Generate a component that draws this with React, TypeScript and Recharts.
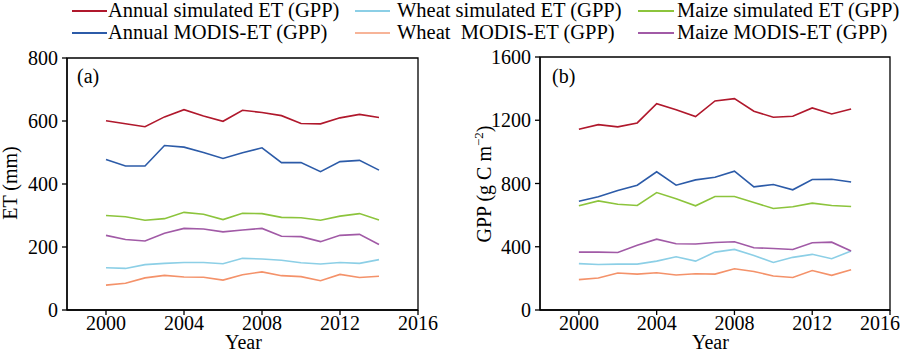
import React from 'react';
import { LineChart, Line, XAxis, YAxis, ReferenceArea } from 'recharts';

const years = [2000, 2001, 2002, 2003, 2004, 2005, 2006, 2007, 2008, 2009, 2010, 2011, 2012, 2013, 2014];
const xTicks = [2000, 2004, 2008, 2012, 2016];

// panel (a) ET, mm
const etAnnualSim = [601, 591, 582, 613, 636, 616, 599, 634, 627, 617, 592, 591, 610, 621, 611];
const etAnnualModis = [478, 457, 457, 522, 517, 500, 481, 499, 515, 468, 468, 439, 471, 475, 444];
const etMaizeSim = [300, 296, 285, 290, 310, 304, 287, 307, 306, 294, 293, 285, 298, 306, 286];
const etMaizeModis = [237, 224, 219, 244, 259, 257, 248, 254, 259, 234, 233, 217, 237, 240, 208];
const etWheatSim = [134, 132, 144, 148, 151, 151, 147, 164, 162, 158, 150, 146, 151, 148, 160];
const etWheatModis = [79, 85, 102, 110, 105, 104, 95, 112, 121, 109, 106, 93, 113, 103, 107];

// panel (b) GPP, g C m-2
const gppAnnualSim = [1143, 1172, 1158, 1183, 1305, 1267, 1223, 1322, 1337, 1257, 1219, 1225, 1278, 1240, 1271];
const gppAnnualModis = [688, 716, 756, 789, 874, 789, 823, 840, 878, 779, 794, 760, 825, 827, 810];
const gppMaizeSim = [659, 690, 669, 661, 743, 703, 659, 718, 718, 680, 642, 653, 676, 661, 655];
const gppMaizeModis = [366, 366, 364, 410, 448, 419, 417, 427, 432, 394, 389, 383, 425, 429, 373];
const gppWheatSim = [293, 288, 290, 290, 309, 337, 309, 366, 383, 345, 301, 333, 352, 324, 373];
const gppWheatModis = [192, 202, 234, 227, 236, 221, 229, 227, 261, 244, 215, 206, 250, 219, 255];

const seriesKeys = ['annualSim', 'wheatSim', 'maizeSim', 'annualModis', 'wheatModis', 'maizeModis'];
const seriesNames = [
  'Annual simulated ET (GPP)',
  'Wheat simulated ET (GPP)',
  'Maize simulated ET (GPP)',
  'Annual MODIS-ET (GPP)',
  'Wheat  MODIS-ET (GPP)',
  'Maize MODIS-ET (GPP)',
];
const colors: Record<string, string> = {
  annualSim: '#b0182c',
  wheatSim: '#8ccfe6',
  maizeSim: '#8cc43c',
  annualModis: '#2c5ba8',
  wheatModis: '#f4926a',
  maizeModis: '#a15aa6',
};
const legendColors: Record<string, string> = {
  ...colors,
  wheatModis: '#f7b498',
};

const etData = years.map((year, i) => ({
  year,
  annualSim: etAnnualSim[i],
  annualModis: etAnnualModis[i],
  maizeSim: etMaizeSim[i],
  maizeModis: etMaizeModis[i],
  wheatSim: etWheatSim[i],
  wheatModis: etWheatModis[i],
}));

const gppData = years.map((year, i) => ({
  year,
  annualSim: gppAnnualSim[i],
  annualModis: gppAnnualModis[i],
  maizeSim: gppMaizeSim[i],
  maizeModis: gppMaizeModis[i],
  wheatSim: gppWheatSim[i],
  wheatModis: gppWheatModis[i],
}));

const font = 'Liberation Serif, Times New Roman, serif';
const tickStyle = { fontFamily: font, fontSize: 20, fill: '#000' };

// legend column positions: [lineStart, lineEnd, textStart]
const legendCols = [
  [72, 107, 108],
  [355, 390, 397],
  [638, 674, 677],
];
const legendRows = [11, 33];

interface PanelProps {
  data: Array<Record<string, number>>;
  yMax: number;
  yTicks: number[];
  yWidth: number;
  margin: { top: number; right: number; bottom: number; left: number };
}

const Panel: React.FC<PanelProps> = ({ data, yMax, yTicks, yWidth, margin }) => (
  <LineChart width={450} height={362} data={data} margin={margin} style={{ fontFamily: font }}>
    <XAxis
      dataKey="year"
      type="number"
      domain={[1998, 2016]}
      ticks={xTicks}
      allowDataOverflow
      tick={tickStyle}
      tickSize={5}
      tickMargin={1}
      height={30}
      stroke="#000"
      strokeWidth={1.3}
    />
    <YAxis
      domain={[0, yMax]}
      ticks={yTicks}
      tick={tickStyle}
      tickSize={5}
      tickMargin={4}
      width={yWidth}
      stroke="#000"
      strokeWidth={1.3}
    />
    <ReferenceArea x1={1998} x2={2016} y1={0} y2={yMax} fill="none" stroke="#000" strokeWidth={1.3} />
    {seriesKeys.map((k) => (
      <Line
        key={k}
        dataKey={k}
        stroke={colors[k]}
        strokeWidth={1.6}
        dot={false}
        type="linear"
        isAnimationActive={false}
      />
    ))}
  </LineChart>
);

const textBase: React.CSSProperties = {
  position: 'absolute',
  fontFamily: font,
  fontSize: 20,
  color: '#000',
  whiteSpace: 'pre',
  lineHeight: '22px',
};

export default function App() {
  return (
    <div style={{ position: 'absolute', left: 0, top: 0, width: 900, height: 362, background: '#fff', fontFamily: font }}>
      {seriesKeys.map((k, i) => {
        const row = Math.floor(i / 3);
        const col = i % 3;
        const [l0, l1, t0] = legendCols[col];
        const cy = legendRows[row];
        return (
          <React.Fragment key={k}>
            <div
              style={{
                position: 'absolute',
                left: l0,
                top: cy - 1,
                width: l1 - l0,
                height: 2,
                background: legendColors[k],
              }}
            />
            <div style={{ ...textBase, left: t0, top: cy - 12, fontSize: 20.5 }}>{seriesNames[i]}</div>
          </React.Fragment>
        );
      })}

      <div style={{ position: 'absolute', left: 0, top: 0 }}>
        <Panel
          data={etData}
          yMax={800}
          yTicks={[0, 200, 400, 600, 800]}
          yWidth={60}
          margin={{ top: 58, right: 32, bottom: 22, left: 7 }}
        />
      </div>
      <div style={{ position: 'absolute', left: 450, top: 0 }}>
        <Panel
          data={gppData}
          yMax={1600}
          yTicks={[0, 400, 800, 1200, 1600]}
          yWidth={70}
          margin={{ top: 57, right: 10, bottom: 22, left: 20 }}
        />
      </div>

      <div style={{ ...textBase, left: 77, top: 65 }}>(a)</div>
      <div style={{ ...textBase, left: 552, top: 65 }}>(b)</div>

      <div style={{ ...textBase, left: 225, top: 331 }}>Year</div>
      <div style={{ ...textBase, left: 692, top: 331 }}>Year</div>

      <div
        style={{
          ...textBase,
          left: 10,
          top: 183,
          transform: 'translate(-50%, -50%) rotate(-90deg)',
        }}
      >
        ET (mm)
      </div>
      <div
        style={{
          ...textBase,
          left: 484,
          top: 184,
          transform: 'translate(-50%, -50%) rotate(-90deg)',
        }}
      >
        GPP (g C m<sup style={{ fontSize: 13, lineHeight: 0 }}>−2</sup>)
      </div>
    </div>
  );
}
